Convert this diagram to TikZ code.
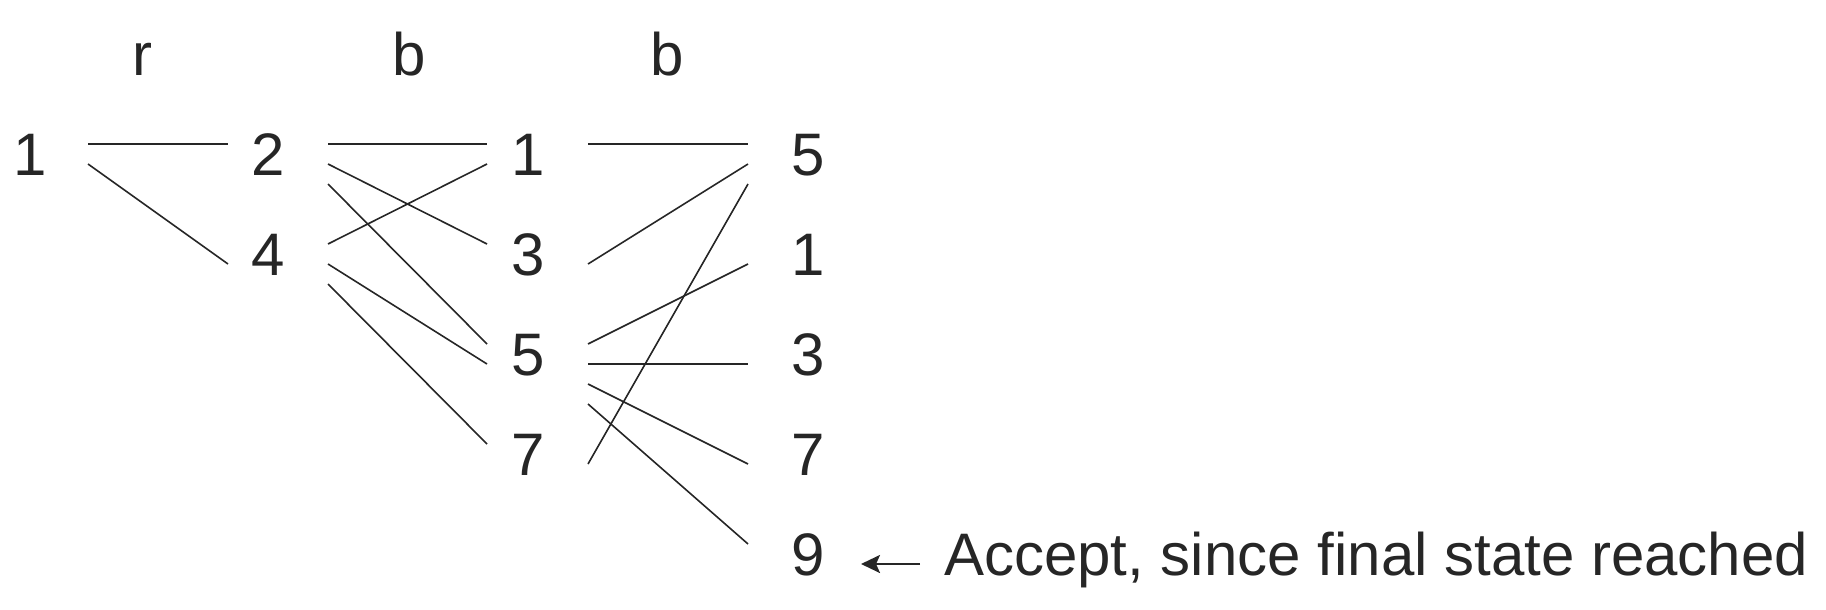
\documentclass[tikz,border=0pt]{standalone}
\usepackage{fontspec}
\setmainfont{Liberation Sans}
\usetikzlibrary{arrows.meta}
\definecolor{ink}{HTML}{262626}
\newcommand\lnk[6]{\draw[edge] ([shift={(#2,#3)}]#1.base) -- ([shift={(#5,#6)}]#4.base);}
\begin{document}
\begin{tikzpicture}[x=1pt,y=-1pt,
  lbl/.style={inner sep=0pt,anchor=base,text=ink,font=\fontsize{60}{72}\selectfont},
  edge/.style={draw=ink,line width=1.6pt},
  pointer/.style={draw=ink,line width=2.6pt,-{Stealth[length=19pt,width=18pt,inset=4pt]}}]
\useasboundingbox (0,0) rectangle (1826,610);
% headers
\node[lbl] (hr) at (142,76) {r};
\node[lbl] (hb1) at (409,76) {b};
\node[lbl] (hb2) at (667,76) {b};
% column 1
\node[lbl] (a1) at (30,175) {1};
% column 2
\node[lbl] (b2) at (268,175) {2};
\node[lbl] (b4) at (268,275) {4};
% column 3
\node[lbl] (c1) at (528,175) {1};
\node[lbl] (c3) at (528,275) {3};
\node[lbl] (c5) at (528,375) {5};
\node[lbl] (c7) at (528,475) {7};
% column 4
\node[lbl] (d5) at (808,175) {5};
\node[lbl] (d1) at (808,275) {1};
\node[lbl] (d3) at (808,375) {3};
\node[lbl] (d7) at (808,475) {7};
\node[lbl] (d9) at (808,575) {9};
% note
\node[lbl,anchor=base west] (acc) at (944,575) {Accept, since final state reached};
% edges col1 -> col2
\lnk{a1}{58}{-31}{b2}{-40}{-31}
\lnk{a1}{58}{-11}{b4}{-40}{-11}
% edges col2 -> col3
\lnk{b2}{60}{-31}{c1}{-41}{-31}
\lnk{b2}{60}{-11}{c3}{-41}{-31}
\lnk{b2}{60}{9}{c5}{-41}{-31}
\lnk{b4}{60}{-31}{c1}{-41}{-11}
\lnk{b4}{60}{-11}{c5}{-41}{-11}
\lnk{b4}{60}{9}{c7}{-41}{-31}
% edges col3 -> col4
\lnk{c1}{60}{-31}{d5}{-60}{-31}
\lnk{c3}{60}{-11}{d5}{-60}{-11}
\lnk{c5}{60}{-31}{d1}{-60}{-11}
\lnk{c5}{60}{-11}{d3}{-60}{-11}
\lnk{c5}{60}{9}{d7}{-60}{-11}
\lnk{c5}{60}{29}{d9}{-60}{-31}
\lnk{c7}{60}{-11}{d5}{-60}{9}
% pointer
\coordinate (ptail) at ([shift={(112,-11)}]d9.base);
\coordinate (phead) at ([shift={(53,-11)}]d9.base);
\draw[pointer] (ptail) -- (phead);
\end{tikzpicture}
\end{document}
